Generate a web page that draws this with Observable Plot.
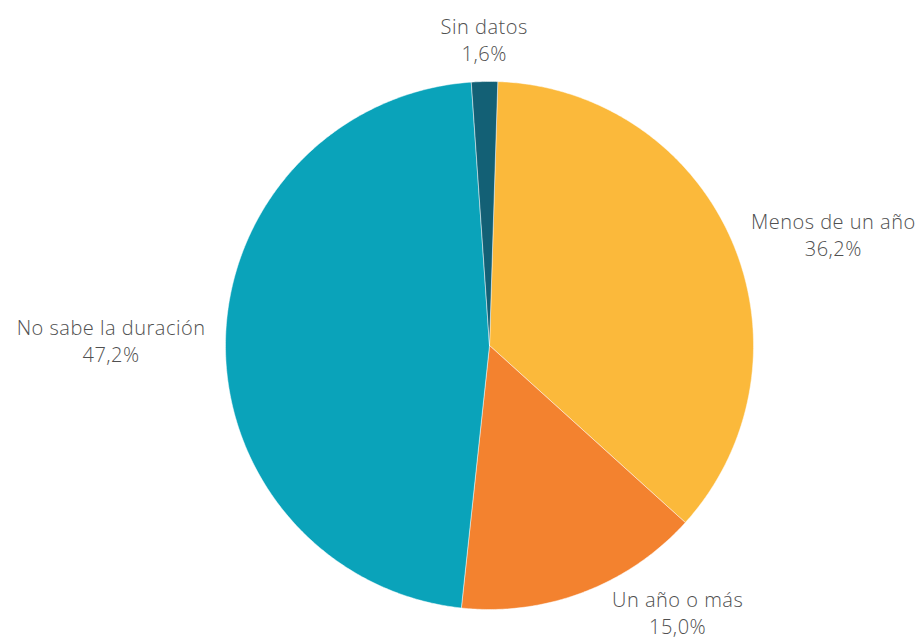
<!DOCTYPE html>
<html>
<head>
<meta charset="utf-8">
<script src="https://cdn.jsdelivr.net/npm/d3@7"></script>
<script src="https://cdn.jsdelivr.net/npm/@observablehq/plot@0.6"></script>
<style>
  html, body { margin: 0; padding: 0; background: #fff; }
  #chart svg { display: block; }
  #chart svg text { letter-spacing: 0.5px; }
</style>
</head>
<body>
<div id="chart"></div>
<script>
const categories = ["Menos de un año", "Un año o más", "No sabe la duración", "Sin datos"];
const values = [36.2, 15.0, 47.2, 1.6];
const colors = ["#FBB93B", "#F3822F", "#0AA3BA", "#136075"];

const W = 922, H = 640;
const cx = 489, cy = 345, R = 264;
const startDeg = 1.8;
const fontSize = 20, lineH = 1.35, fontWeight = 300, letterSp = 0.5;
const fontFamily = "'Open Sans', Roboto, sans-serif";

const xDomain = [-cx / R, (W - cx) / R];
const yDomain = [-cy / R, (H - cy) / R];

const ctx = document.createElement("canvas").getContext("2d");
ctx.font = `${fontWeight} ${fontSize}px ${fontFamily}`;
const textWidth = s => ctx.measureText(s).width + letterSp * s.length;

const total = d3.sum(values);
const fmt = v => v.toFixed(1).replace(".", ",") + "%";
const slices = [];
const labels = [];
let acc = 0;
const a00 = startDeg * Math.PI / 180;
categories.forEach((cat, i) => {
  const a0 = a00 + acc / total * 2 * Math.PI;
  acc += values[i];
  const a1 = a00 + acc / total * 2 * Math.PI;
  const n = Math.max(2, Math.ceil((a1 - a0) / (Math.PI / 360)));
  slices.push({cat, x: 0, y: 0});
  for (let k = 0; k <= n; k++) {
    const a = a0 + (a1 - a0) * k / n;
    slices.push({cat, x: Math.sin(a), y: -Math.cos(a)});
  }
  slices.push({cat, x: 0, y: 0});

  const am = (a0 + a1) / 2;
  const s = Math.sin(am), c = Math.cos(am);
  const rl = 1.076;
  const lines = [cat, fmt(values[i])];
  const w = d3.max(lines, textWidth) / R;
  let x = s * rl, y = -c * rl;
  if (s > 0.3) x += w / 2;
  else if (s < -0.3) x -= w / 2;
  const lineAnchor = Math.abs(c) > 0.5 ? (c > 0 ? "bottom" : "top") : "middle";
  const boxH = fontSize * (0.71 + (lines.length - 1) * lineH + 0.55) / R;
  if (lineAnchor === "top") y = Math.min(y, yDomain[1] - boxH);
  if (lineAnchor === "bottom") y = Math.max(y, yDomain[0] + boxH);
  // keep the label's nearest corner clear of the pie
  if (lineAnchor !== "middle" && Math.abs(s) > 0.3) {
    const edgeY = lineAnchor === "top" ? y - 0.15 * fontSize / R : y + 0.15 * fontSize / R;
    const need = Math.sqrt(Math.max(0, 1.02 * 1.02 - edgeY * edgeY));
    const near = Math.abs(x) - w / 2;
    if (near < need) x += Math.sign(s) * (need - near);
  }
  labels.push({cat, x, y, lineAnchor, text: lines.join("\n")});
});

const textMarks = ["top", "bottom", "middle"].map(la =>
  Plot.text(labels.filter(d => d.lineAnchor === la), {
    x: "x", y: "y", text: "text",
    textAnchor: "middle", lineAnchor: la, lineHeight: lineH,
    fontSize, fill: "#505050", fontWeight
  })
);

const chart = Plot.plot({
  width: W, height: H,
  margin: 0,
  style: {fontFamily, background: "#fff"},
  x: {domain: xDomain, range: [0, W], axis: null},
  y: {domain: yDomain, range: [0, H], axis: null},
  color: {domain: categories, range: colors},
  marks: [
    Plot.line(slices, {x: "x", y: "y", z: "cat", fill: "cat", stroke: "white", strokeWidth: 0.6, strokeOpacity: 0.8, curve: "linear"}),
    ...textMarks
  ]
});
document.getElementById("chart").appendChild(chart);
</script>
</body>
</html>
